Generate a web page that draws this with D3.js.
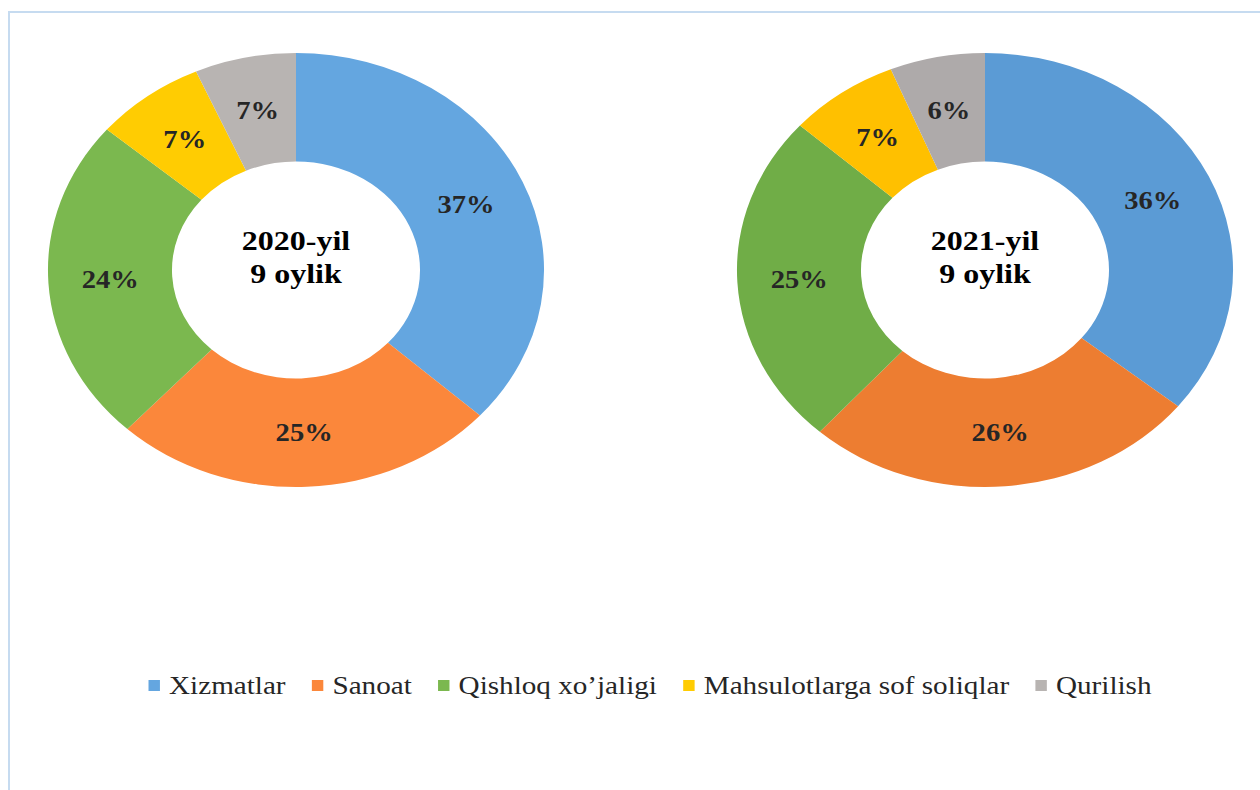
<!DOCTYPE html>
<html>
<head>
<meta charset="utf-8">
<script src="https://cdn.jsdelivr.net/npm/d3@7"></script>
<style>
  body { margin: 0; background: #fff; }
  svg { display: block; }
  .pct, .center, .legend text { font-family: "Liberation Serif", Tinos, "Times New Roman", Times, serif; }
  .pct { font-weight: bold; font-size: 25px; fill: #262626; }
  .center { font-weight: bold; font-size: 28px; fill: #000; }
  .legend text { font-size: 25.5px; fill: #262626; }
</style>
</head>
<body>
<div id="chart"></div>
<script>
// Data (shares in %; labels show them rounded)
var categories = ["Xizmatlar", "Sanoat", "Qishloq xo\u2019jaligi", "Mahsulotlarga sof soliqlar", "Qurilish"];
var values2020 = [36.7, 25.2, 24.3, 7.2, 6.6];
var values2021 = [35.8, 25.8, 25.0, 7.2, 6.2];
var titles = [["2020-yil", "9 oylik"], ["2021-yil", "9 oylik"]];

// Colours (the two charts use slightly different shades)
var colors2020 = ["#64a6e0", "#fb873b", "#7bb84f", "#ffcc02", "#b8b4b2"];
var colors2021 = ["#5b9bd5", "#ed7d31", "#70ad47", "#ffc000", "#aeaaaa"];

var W = 1260, H = 790;
// the picture is stretched horizontally
var sx = 1.143;
var outerR = 217, innerR = 108.5;

var svg = d3.select("#chart").append("svg")
    .attr("width", W)
    .attr("height", H);

// frame (left and top edge only visible)
svg.append("path")
    .attr("d", "M9,790 L9,12 L1260,12")
    .attr("fill", "none")
    .attr("stroke", "#c6dbf0")
    .attr("stroke-width", 2);

var g = svg.append("g").attr("transform", "scale(" + sx + ",1)");

var pie = d3.pie().sort(null).value(function (d) { return d; })
    .startAngle(0).endAngle(2 * Math.PI);
var arc = d3.arc().innerRadius(innerR).outerRadius(outerR);

var donuts = [
  { values: values2020, colors: colors2020, cx: 296, title: titles[0] },
  { values: values2021, colors: colors2021, cx: 985, title: titles[1] }
];

donuts.forEach(function (dn) {
  var dg = g.append("g")
      .attr("transform", "translate(" + (dn.cx / sx) + ",270)");

  dg.selectAll("path")
      .data(pie(dn.values))
      .enter().append("path")
      .attr("d", arc)
      .attr("fill", function (d, i) { return dn.colors[i]; });

  dg.selectAll("text.pct")
      .data(pie(dn.values))
      .enter().append("text")
      .attr("class", "pct")
      .attr("text-anchor", "middle")
      .attr("transform", function (d) { return "translate(" + arc.centroid(d) + ")"; })
      .attr("dy", "0.35em")
      .text(function (d) { return Math.round(d.value) + "%"; });

  dg.append("text")
      .attr("class", "center")
      .attr("text-anchor", "middle")
      .attr("y", -20)
      .text(dn.title[0]);
  dg.append("text")
      .attr("class", "center")
      .attr("text-anchor", "middle")
      .attr("y", 13)
      .text(dn.title[1]);
});

// Legend
var legend = g.append("g").attr("class", "legend");
var items = legend.selectAll("g")
    .data(categories)
    .enter().append("g");

items.append("rect")
    .attr("width", 10)
    .attr("height", 11)
    .attr("y", -6)
    .attr("fill", function (d, i) { return colors2020[i]; });

items.append("text")
    .attr("x", 18)
    .attr("y", 8)
    .text(function (d) { return d; });

var gap = 23;
var xPos = 0;
items.each(function () {
  var it = d3.select(this);
  it.attr("transform", "translate(" + xPos + ",0)");
  var w = 18 + it.select("text").node().getComputedTextLength();
  xPos += w + gap;
});
var totalW = xPos - gap;
legend.attr("transform", "translate(" + (650 / sx - totalW / 2) + ",686)");
</script>
</body>
</html>
